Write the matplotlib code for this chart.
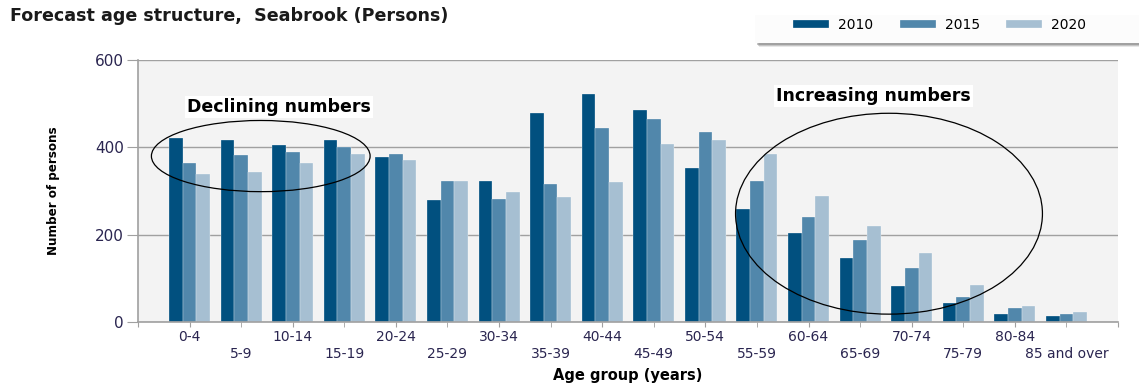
import numpy as np
import matplotlib
matplotlib.use("Agg")
from matplotlib import pyplot as plt
from matplotlib.patches import Ellipse, Rectangle

# forecast persons per five-year age group
age_groups = [
    "0-4", "5-9", "10-14", "15-19", "20-24", "25-29", "30-34", "35-39", "40-44",
    "45-49", "50-54", "55-59", "60-64", "65-69", "70-74", "75-79", "80-84", "85 and over",
]
persons_2010 = [422, 417, 405, 417, 378, 279, 324, 479, 523, 486, 353, 259, 203, 146, 82, 44, 18, 14]
persons_2015 = [363, 382, 390, 401, 385, 324, 281, 317, 444, 466, 434, 323, 240, 188, 124, 57, 32, 18]
persons_2020 = [339, 343, 363, 385, 370, 324, 298, 286, 321, 408, 417, 385, 289, 220, 158, 84, 37, 22]
years = ["2010", "2015", "2020"]

colors = ["#01507f", "#5187ab", "#a6bfd2"]
plt.rcParams["font.family"] = ["DejaVu Sans"]

W, H = 1139, 387
fig = plt.figure(figsize=(W / 100, H / 100), dpi=100)
ax = fig.add_axes([138 / W, 1 - 322 / H, 980 / W, 262 / H])
ax.set_facecolor("#f3f3f3")

n = len(age_groups)
x = np.arange(n)
bw = 0.265
for k, (vals, col, lab) in enumerate(zip([persons_2010, persons_2015, persons_2020], colors, years)):
    ax.bar(x + (k - 1) * bw, vals, width=bw, color=col, label=lab,
           edgecolor="white", linewidth=0.2, zorder=2)

ax.set_xlim(-1, n)
ax.set_ylim(0, 600)
ax.set_yticks([0, 200, 400, 600])
ax.yaxis.grid(True, color="#a0a0a0", linewidth=1.0, zorder=1)
ax.tick_params(axis="y", length=8, color="#a0a0a0", labelsize=11, labelcolor="#2a2550", pad=2)

# even groups on the first row (major), odd groups on the second row (minor)
major = [-1] + list(range(0, n, 2)) + [n]
ax.set_xticks(major)
ax.set_xticklabels([""] + age_groups[0::2] + [""])
ax.set_xticks(list(range(1, n, 2)), minor=True)
ax.set_xticklabels(age_groups[1::2], minor=True)
ax.tick_params(axis="x", which="both", length=3.5, color="#a0a0a0", labelsize=10,
               labelcolor="#2a2550")
ax.tick_params(axis="x", which="major", pad=2.5)
ax.tick_params(axis="x", which="minor", pad=14.5)

for s in ["top", "right"]:
    ax.spines[s].set_visible(False)
for s in ["left", "bottom"]:
    ax.spines[s].set_color("#a0a0a0")
    ax.spines[s].set_linewidth(1.2)

ax.set_ylabel("Number of persons", fontsize=9.5, fontweight="bold", fontstretch="condensed")
ax.yaxis.set_label_coords(-78 / 980, 131 / 262)
ax.set_xlabel("Age group (years)", fontsize=10.5, fontweight="bold", labelpad=5)

# annotations
ax.add_patch(Ellipse((1.38, 380), 4.24, 163, fill=False, edgecolor="black", linewidth=0.9, zorder=4))
ax.add_patch(Ellipse((13.56, 248), 5.95, 460, fill=False, edgecolor="black", linewidth=0.9, zorder=4))
ax.text(1.74, 492, "Declining numbers", ha="center", va="center", fontsize=12.5, fontweight="bold",
        bbox=dict(facecolor="white", edgecolor="none", pad=1.5), zorder=5)
ax.text(13.26, 517, "Increasing numbers", ha="center", va="center", fontsize=12.5, fontweight="bold",
        bbox=dict(facecolor="white", edgecolor="none", pad=1.5), zorder=5)

fig.text(10 / W, 1 - 16 / H, "Forecast age structure,  Seabrook (Persons)", fontsize=12.6,
         fontweight="bold", va="center", ha="left", color="#1a1a1a")

# legend panel with a soft shadow
for off, alpha in [(4, 0.15), (3, 0.25), (2, 0.35)]:
    fig.add_artist(Rectangle(((755 + off) / W, 1 - (43 + off) / H), 400 / W, 28 / H,
                             transform=fig.transFigure, facecolor="#606060", alpha=alpha,
                             edgecolor="none"))
fig.add_artist(Rectangle((755 / W, 1 - 43 / H), 400 / W, 28 / H, transform=fig.transFigure,
                         facecolor="#fcfcfc", edgecolor="none"))
handles, labels = ax.get_legend_handles_labels()
fig.legend(handles, labels, loc="center left", bbox_to_anchor=(793 / W, 1 - 25 / H), ncol=3,
           frameon=False, fontsize=10, handlelength=2.6, handleheight=0.58, columnspacing=1.9,
           handletextpad=0.65, borderpad=0, borderaxespad=0)

fig.savefig("out.png", dpi=100)
